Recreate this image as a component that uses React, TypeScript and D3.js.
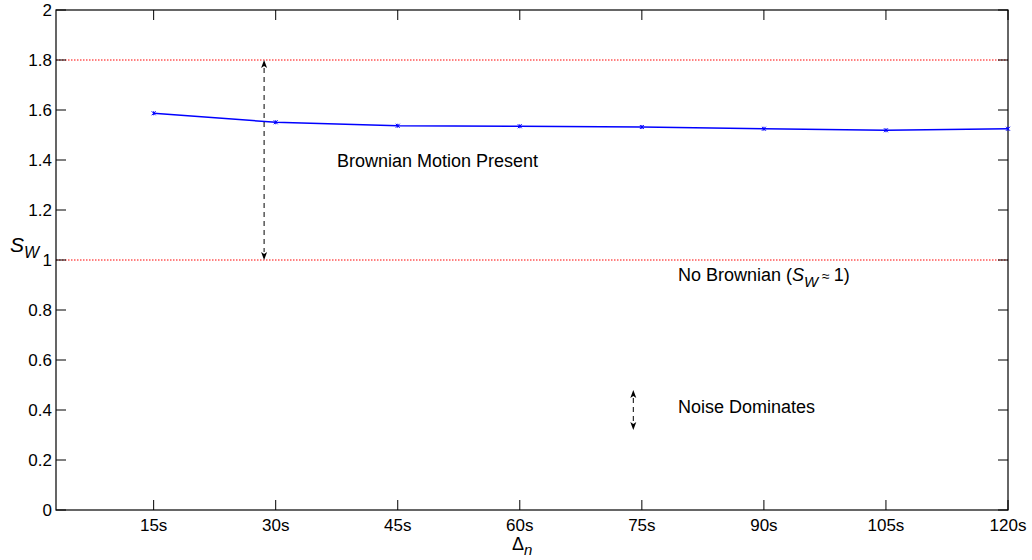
import React from "react";
import * as d3 from "d3";

const categories = ["15s", "30s", "45s", "60s", "75s", "90s", "105s", "120s"];
const swValues = [1.587, 1.551, 1.537, 1.535, 1.532, 1.525, 1.519, 1.525];
const yTicks = [0, 0.2, 0.4, 0.6, 0.8, 1, 1.2, 1.4, 1.6, 1.8, 2];
const refLines = [1.8, 1.0];
// annotation arrows: [xIndex, yFrom, yTo]
const arrowBrownian = [1.905, 1.0, 1.8];
const arrowNoise = [4.93, 0.32, 0.48];

const W = 1032;
const H = 560;
const M = { left: 56, right: 24, top: 10, bottom: 50 };
const FONT = "'Liberation Sans', Arial, Helvetica, sans-serif";

export default function App() {
  const x = d3.scaleLinear().domain([0.2, 8]).range([M.left, W - M.right]);
  const y = d3.scaleLinear().domain([0, 2]).range([H - M.bottom, M.top]);
  const x0 = x.range()[0], x1 = x.range()[1];
  const y0 = y.range()[0], y1 = y.range()[1];
  const line = d3
    .line<number>()
    .x((_, i) => x(i + 1))
    .y((d) => y(d));

  const arrow = (a: number[], key: string) => {
    const ax = x(a[0]);
    const ya = y(a[1]);
    const yb = y(a[2]);
    const hl = 8, hw = 3;
    return (
      <g key={key}>
        <line x1={ax} x2={ax} y1={yb + hl} y2={ya - hl} stroke="#000" strokeWidth={1} strokeDasharray="5,4" />
        <path d={`M${ax},${yb} L${ax - hw},${yb + hl} L${ax},${yb + hl - 2} L${ax + hw},${yb + hl} Z`} fill="#000" />
        <path d={`M${ax},${ya} L${ax - hw},${ya - hl} L${ax},${ya - hl + 2} L${ax + hw},${ya - hl} Z`} fill="#000" />
      </g>
    );
  };

  return (
    <svg width={W} height={H} style={{ position: "absolute", left: 0, top: 0, background: "#fff" }} fontFamily={FONT}>
      <rect x={0} y={0} width={W} height={H} fill="#fff" />
      {refLines.map((v) => (
        <line key={v} x1={x0} x2={x1} y1={y(v)} y2={y(v)} stroke="#ff0000" strokeWidth={1} strokeDasharray="1.5,1.5" />
      ))}
      {/* y ticks */}
      {yTicks.map((t) => (
        <g key={t}>
          <line x1={x0} x2={x0 + 10} y1={y(t)} y2={y(t)} stroke="#000" />
          <line x1={x1} x2={x1 - 10} y1={y(t)} y2={y(t)} stroke="#000" />
          <text x={x0 - 4} y={y(t)} dy="0.36em" textAnchor="end" fontSize={17} fill="#000">
            {String(t)}
          </text>
        </g>
      ))}
      {/* x ticks */}
      {categories.map((c, i) => (
        <g key={c}>
          <line x1={x(i + 1)} x2={x(i + 1)} y1={y0} y2={y0 - 10} stroke="#000" />
          <line x1={x(i + 1)} x2={x(i + 1)} y1={y1} y2={y1 + 10} stroke="#000" />
          <text x={x(i + 1)} y={y0 + 21} textAnchor="middle" fontSize={17} fill="#000">
            {c}
          </text>
        </g>
      ))}
      <rect x={x0} y={y1} width={x1 - x0} height={y0 - y1} fill="none" stroke="#000" strokeWidth={1.2} />
      <path d={line(swValues) || ""} fill="none" stroke="#0000ff" strokeWidth={1.5} />
      {swValues.map((v, i) => {
        const cx = x(i + 1), cy = y(v), s = 2;
        return (
          <path key={i} d={`M${cx - s},${cy - s}L${cx + s},${cy + s}M${cx - s},${cy + s}L${cx + s},${cy - s}M${cx},${cy - s}L${cx},${cy + s}`} stroke="#0000ff" strokeWidth={1} />
        );
      })}
      {arrow(arrowBrownian, "a1")}
      {arrow(arrowNoise, "a2")}
      <text x={337} y={167} fontSize={18} fill="#000">Brownian Motion Present</text>
      <text x={678} y={281} fontSize={18} fill="#000">
        No Brownian (<tspan fontStyle="italic">S</tspan>
        <tspan fontStyle="italic" fontSize={15} dy={6}>W</tspan>
        <tspan dy={-6} fontSize={14}> ≈ </tspan>
        <tspan>1)</tspan>
      </text>
      <text x={678} y={413} fontSize={18} fill="#000">Noise Dominates</text>
      {/* y label */}
      <text x={10} y={252} fontSize={21} fill="#000" fontStyle="italic">
        S<tspan fontSize={16} dy={6}>W</tspan>
      </text>
      {/* x label */}
      <text x={512} y={550} fontSize={18} fill="#000">
        Δ<tspan fontSize={15} fontStyle="italic" dy={5}>n</tspan>
      </text>
    </svg>
  );
}
